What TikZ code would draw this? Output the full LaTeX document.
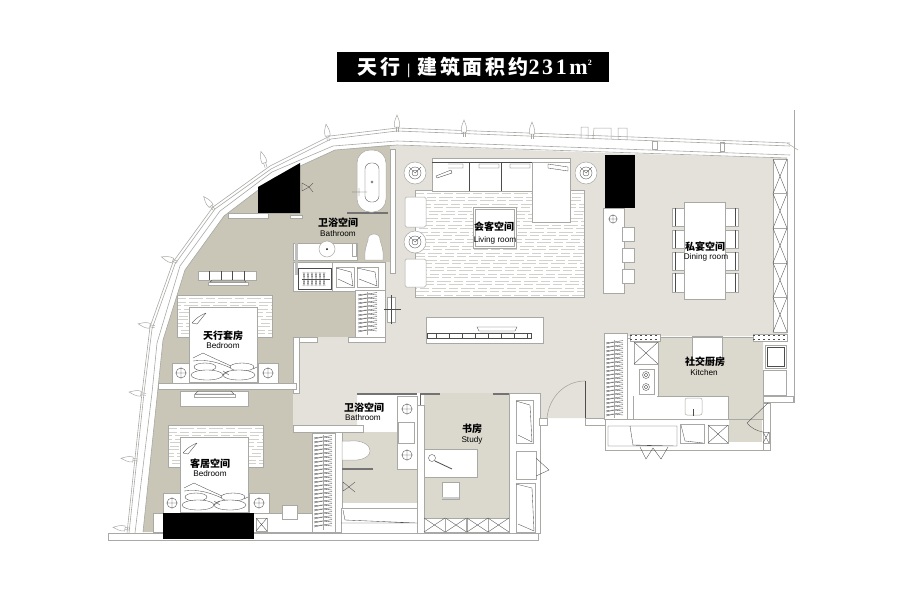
\documentclass[tikz,border=0pt]{standalone}
\usepackage{fontspec}
\setmainfont{Liberation Sans}
\newfontfamily\cjk{Noto Sans CJK SC}
\newfontfamily\titlecjk[LetterSpace=14]{Noto Sans CJK SC}
\newfontfamily\titlenum[LetterSpace=12]{Liberation Serif}
\usetikzlibrary{calc}

\definecolor{floorlight}{HTML}{E3E1DA}
\definecolor{floormid}{HTML}{DBD8CE}
\definecolor{floortaupe}{HTML}{C9C6B7}
\definecolor{planline}{HTML}{A8A8A4}
\definecolor{rugshade}{HTML}{D2D2CD}

\tikzset{
  furn/.style={fill=white,draw=planline,line width=.5pt},
  wall/.style={fill=white,draw=planline,line width=.6pt},
  thinline/.style={draw=black!70,line width=.35pt},
  facade/.style={draw=planline,line width=.6pt},
  glass/.style={draw=black!55,line width=1.1pt},
  rugline/.style={draw=rugshade,line width=.8pt,dash pattern=on 14pt off 3pt on 9pt off 3pt},
  cnlabel/.style={font=\cjk\bfseries\fontsize{10}{10}\selectfont,inner sep=0pt},
  enlabel/.style={font=\fontsize{8.2}{9}\selectfont,inner sep=0pt},
  bud/.pic={
    \draw[planline,fill=white,line width=.5pt] (-2.5,5) .. controls (-3.5,0) and (-1,-4) .. (0,-7) .. controls (1,-4) and (3.5,0) .. (2.5,5) -- cycle;
    \draw[planline,line width=.5pt] (-1,5) -- (-1,10) (1,5) -- (1,10);
  }
}

% box with both diagonals
\newcommand\crossbox[4]{
  \draw[furn] (#1,#2) rectangle (#3,#4);
  \draw[thinline] (#1,#2) -- (#3,#4) (#1,#4) -- (#3,#2);
}
% hanging rail, vertical
\newcommand\hangrack[4]{
  \pgfmathtruncatemacro\rackn{(#4-#3)/4}
  \pgfmathsetmacro\rackm{(#1+#2)/2}
  \foreach \k in {1,...,\rackn}{
    \pgfmathsetmacro\racky{#3+\k*4}
    \draw[thinline] (#1,\racky) -- (\rackm,\racky-2) -- (#2,\racky-3.5);
    \draw[thinline] (#1,\racky-1.5) -- (\rackm,\racky-2) -- (#2,\racky-1);
  }
  \draw[planline,line width=.4pt] (\rackm,#3) -- (\rackm,#4);
}
% woven rug
\newcommand\rughatch[4]{
  \fill[white] (#1,#2) rectangle (#3,#4);
  \pgfmathtruncatemacro\rugn{(#4-#2)/3.5}
  \foreach \k in {1,...,\rugn}{
    \pgfmathsetmacro\rugy{#2+\k*3.5}
    \pgfmathsetmacro\rugph{mod(\k*17,29)}
    \draw[rugline,dash phase=\rugph pt] (#1,\rugy) -- (#3,\rugy);
  }
}
% ringed side table
\newcommand\ringtable[2]{
  \draw[furn] (#1,#2) circle [radius=11];
  \draw[thinline] (#1,#2) circle [radius=6] (#1,#2) circle [radius=3];
  \draw[thinline] (#1-6,#2-6) -- (#1,#2) -- (#1+6,#2-6);
}
% lamp on a night table
\newcommand\lampmark[2]{
  \draw[thinline] (#1,#2) circle [radius=5] (#1-6,#2) -- (#1+6,#2) (#1,#2-6) -- (#1,#2+6);
}
% cupboard with a folded door
\newcommand\foldbox[4]{
  \draw[furn] (#1,#2) rectangle (#3,#4);
  \draw[thinline] (#1,#2+1) -- (#3-3,#2+5) -- (#3-1,#4-1) -- (#1+2,#4-8);
}

\begin{document}
\begin{tikzpicture}[x=1pt,y=-1pt]
\useasboundingbox (0,0) rectangle (900,600);

% floors
\fill[floortaupe] (390,145) -- (335,150) -- (274,178) -- (224,216) -- (185,270) -- (163,340) -- (158,388) -- (143,532) -- (312,532) -- (312,428) -- (293,428) -- (293,337) -- (385,337) -- (385,262) -- (390,262) -- cycle;
\fill[floorlight] (390,145) -- (603,153) -- (787,158) -- (787,336) -- (605,336) -- (605,418) -- (540,418) -- (540,393) -- (357,393) -- (357,428) -- (293,428) -- (293,337) -- (385,337) -- (385,262) -- (390,262) -- cycle;
\fill[floormid] (424,393) rectangle (510,520);
\fill[floormid] (342,432) rectangle (417,503);
\fill[floormid] (658,338) -- (763,338) -- (763,442) -- (728,442) -- (728,396) -- (658,396) -- cycle;

% curved facade
\draw[facade] (790,143) -- (397,128) -- (330,136) -- (270,166) -- (213,207) -- (173,262) -- (150,327) -- (142,393) -- (127,533);
\draw[facade] (790,146) -- (397,131) -- (331,139) -- (271,169) -- (215,209) -- (175,264) -- (152,329) -- (144,393) -- (129,533);
\draw[facade] (790,155) -- (397,141) -- (333,146) -- (272,172) -- (220,211) -- (180,266) -- (157,343) -- (152,393) -- (135,533);
\draw[facade] (787,158) -- (397,145) -- (335,150) -- (274,178) -- (224,216) -- (185,270) -- (163,340) -- (158,388) -- (143,532);
\foreach \x/\y/\a in {532/129/0,464/127/0,397/122/0,327/131/8,263/158/18,208/202/38,168/259/72,145/325/80,136/393/82,128/459/84,120/528/84}
  \pic[rotate=\a] at (\x,\y) {bud};
\draw[planline,line width=.5pt] (581,138) -- (581,127) -- (588,127) -- (588,138) (593,139) -- (594,128) -- (611,128) -- (611,139) (618,139) -- (618,128) -- (627,128) -- (627,140);
\draw[planline,line width=.5pt] (652,141) rectangle (657,149) (720,142) rectangle (724,151);
\draw[planline,line width=.5pt] (794,110) -- (794,402) -- (763,402);
\draw[planline,line width=.5pt] (787,143) -- (798,150);

% black shafts
\fill[black] (258,187) -- (300,163) -- (300,213) -- (258,213) -- cycle;
\fill[black] (605,155) rectangle (635,208);
\fill[black] (163,513) rectangle (254,539);

% walls
\draw[wall] (293,337) rectangle (317,342) (348,337) rectangle (385,342);
\draw[wall] (293,337) rectangle (299,393);
\draw[wall] (158,383) rectangle (296,389);
\draw[wall] (293,425) rectangle (363,432);
\draw[wall] (335,432) rectangle (342,532);
\draw[wall] (417,405) rectangle (424,533);
\draw[wall] (108,533) rectangle (538,540);
\draw[wall] (509,393) rectangle (540,533);
\draw[wall] (539,418) rectangle (547,425);
\draw[wall] (585,418) rectangle (605,425);
\draw[wall] (605,419) rectangle (770,450);
\draw[wall] (763,403) rectangle (770,450);
\draw[wall] (228,213) rectangle (268,218) (290,215) rectangle (302,218);
\draw[glass] (357,394) -- (417,394);
\draw[glass] (420,394) -- (440,394) (493,394) -- (509,394);
\draw[black!60,line width=.5pt] (420,394) -- (420,405);
\draw[glass] (347,213) -- (388,213);
\draw[glass] (342,469) -- (373,469);

% master bath
\draw[furn,rounded corners=13pt] (357,150) rectangle (386,212);
\draw[thinline,rounded corners=6pt] (365,163) rectangle (379,202);
\draw[thinline] (372,182) circle [radius=1.2] (352,192) -- (367,192) (359,188) -- (359,196);
\draw[furn] (390,149) rectangle (395,273);
\draw[thinline] (302,183) -- (309,187) -- (302,191) -- cycle (309,187) -- (313,183) (309,187) -- (313,192);
\draw[furn] (293,243) rectangle (357,260);
\fill[black!25] (295,243) rectangle (298,262);
\draw[furn] (327,249) circle [radius=8];
\fill[black] (327,249) circle [radius=1];
\draw[furn] (352,243) rectangle (356,256);
\draw[furn] (365,260) .. controls (364,250) and (367,244) .. (368,240) .. controls (367,232) and (381,232) .. (380,240) .. controls (381,244) and (384,250) .. (383,260) -- cycle;
\draw[furn] (293,262) rectangle (332,291);
\fill[black!25] (295,262) rectangle (298,275);
\draw[thinline] (298,268) rectangle (331,289);
\draw[thinline] (302,279) -- (330,279);
\foreach \x in {303,307,...,323}
  \draw[thinline] (\x,272) -- (\x+2,286) (\x+2,272) -- (\x,286);
\draw[furn] (332,262) rectangle (385,291);
\foldbox{336}{267}{354}{287}
\foldbox{357}{267}{378}{287}
\draw[furn] (355,290) rectangle (385,337);
\hangrack{358}{377}{292}{335}
\draw[furn] (387,297) rectangle (395,322);
\draw[thinline] (384,309) -- (401,309) (391,295) -- (391,324);

% upper bedroom
\draw[furn] (198,271) rectangle (256,280);
\draw[thinline] (209,271) -- (209,280) (221,271) -- (221,280) (232,271) -- (232,280) (244,271) -- (244,280);
\draw[furn] (208,282) rectangle (248,285);
\draw[thinline] (212,280) -- (244,280) -- (246,282) -- (210,282) -- cycle;
\draw[furn] (180,391) rectangle (248,406);
\draw[furn] (194,394) rectangle (235,397);
\draw[thinline] (198,391) -- (231,391) -- (234,394) -- (195,394) -- cycle;

% beds
\foreach \x/\y in {189/307,180/437}{
  \begin{scope}[shift={(\x,\y)}]
  \rughatch{-12}{-12}{83}{30}
  \draw[planline,line width=.4pt] (-12,-12) rectangle (83,30);
  \draw[furn] (0,0) rectangle (68,75);
  \draw[furn] (-17,56) rectangle (0,76);
  \draw[furn] (69,56) rectangle (89,76);
  \lampmark{-8}{66}
  \lampmark{79}{66}
  \draw[thinline] (3,16) .. controls (7,11) and (12,8) .. (17,6) (3,16) -- (8,17) -- (17,6);
  \draw[thinline] (4,51) -- (14,46) .. controls (26,52) and (36,56) .. (44,60) (4,54) .. controls (20,52) and (30,56) .. (42,61);
  \draw[thinline,fill=white] (16,60) ellipse [x radius=11,y radius=4];
  \draw[thinline,fill=white] (53,60) ellipse [x radius=12,y radius=4];
  \draw[thinline,fill=white] (18,68) ellipse [x radius=16,y radius=5];
  \draw[thinline,fill=white] (50,68) ellipse [x radius=16,y radius=5];
  \draw[thinline] (34,68) -- (40,64) (34,64) -- (40,68) (64,62) -- (68,60);
  \end{scope}
}
\draw[furn] (153,513) rectangle (312,532);
\fill[black] (163,513) rectangle (254,539);
\crossbox{256}{518}{267}{531}
\draw[furn] (282,505) rectangle (297,519);
\draw[furn] (312,433) rectangle (335,532);
\hangrack{314}{332}{435}{530}

% lower bath
\draw[furn] (342,441) -- (350,441) .. controls (356,440) and (370,442) .. (370,451) .. controls (370,459) and (356,461) .. (350,460) -- (342,460) -- cycle;
\draw[thinline] (343,482) -- (349,487) -- (343,491) -- cycle (349,487) -- (355,482) (349,487) -- (355,492);
\draw[furn] (397,396) rectangle (417,469);
\lampmark{407}{409}
\lampmark{407}{455}
\draw[furn] (398,422) rectangle (414,443);
\draw[furn] (341,508) rectangle (417,533);
\draw[thinline] (343,510) -- (345,520) -- (417,523) (341,523) -- (417,523);

% study
\draw[furn] (424,449) rectangle (477,477);
\draw[thinline] (432,458) circle [radius=3.5];
\draw[black!70,line width=.8pt] (435,461) -- (452,469);
\draw[furn] (442,482) rectangle (459,499);
\fill[black!20] (442,497) rectangle (459,499);
\foreach \x in {424,445.5,467,488}{
  \crossbox{\x}{518}{\x+21}{532}
}
\foldbox{516}{400}{533}{443}
\draw[furn] (516,451) rectangle (536,479);
\foldbox{516}{483}{535}{532}
\draw[thinline] (536,458) -- (549,470) -- (536,476);

% entrance door
\draw[black!70,line width=.5pt] (585,381) -- (585,418);
\draw[planline,line width=.6pt] (585,381) .. controls (565,381) and (549,397) .. (547,418);

% living room
\rughatch{415}{190}{584}{297}
\draw[planline,line width=.5pt] (415,190) rectangle (584,297);
\draw[furn] (432,158) rectangle (570,191);
\draw[thinline] (469,162) -- (469,191) (501,162) -- (501,191) (532,162) -- (532,191) (432,162) -- (570,162);
\draw[furn] (532,162) rectangle (570,222);
\draw[thinline] (448,164) -- (463,164) -- (463,168) -- (448,168) (479,164) rectangle (499,168) (510,164) rectangle (530,168) (548,164) -- (568,167) -- (568,171) -- (548,168) -- cycle;
\draw[thinline] (436,176) -- (451,170) -- (452,173) -- (437,178) -- cycle;
\ringtable{415}{173}
\ringtable{586}{173}
\ringtable{415}{242}
\draw[furn,rounded corners=1.5pt] (405,197) rectangle (426,227);
\draw[furn,rounded corners=1.5pt] (405,259) rectangle (426,287);
\draw[furn] (473,207) rectangle (516,248);
\draw[planline,line width=.5pt] (475,209) rectangle (514,246);

% bar and dining table
\draw[furn] (603,208) rectangle (624,293);
\draw[thinline] (613,219) circle [radius=4] (608,219) -- (618,219) (613,214) -- (613,224);
\draw[furn] (622,227) rectangle (634,241) (622,248) rectangle (634,262) (622,269) rectangle (634,283);
\foreach \y/\v in {208/226,230/248,252/270,273/292}{
  \draw[furn] (672,\y) rectangle (684,\v);
  \draw[furn] (725,\y) rectangle (738,\v);
  \draw[thinline] (675,\y) -- (675,\v) (735,\y) -- (735,\v);
}
\draw[furn] (684,202) rectangle (725,299);
\foreach \y in {159,193.6,228.2,262.8,297.4}{
  \crossbox{773}{\y}{787}{\y+34.6}
}

% media wall
\draw[furn] (426,317) rectangle (543,343);
\draw[thinline] (477,327) -- (517,327) -- (515,331) -- (479,331) -- cycle (480,333) -- (514,333);
\draw[black!70,line width=.6pt] (427,333) rectangle (531,338);
\foreach \x in {436,449,462,475,488,501,514,527}
  \fill[black!70] (\x-.5,333) rectangle (\x+.5,338);

% kitchen
\draw[wall] (604,333) rectangle (627,419);
\hangrack{606}{623}{340}{418}
\draw[wall] (627,338) rectangle (658,419);
\draw[wall] (633,396) rectangle (728,419);
\fill[white] (634,392) rectangle (657,400);
\crossbox{634}{342}{658}{364}
\draw[furn] (639,369) rectangle (654,394);
\foreach \y in {375,387}
  \draw[thinline] (646,\y) circle [radius=3.5] (646,\y) circle [radius=1.8];
\draw[furn,rounded corners=2pt] (685,398) rectangle (702,415);
\draw[thinline] (693,409) -- (693,416);
\draw[thinline] (608,426) rectangle (677,446) (630,426) -- (633,445) -- (677,446);
\draw[thinline] (640,447) -- (646,459) -- (653,448) -- (661,459) -- (668,447);
\draw[furn] (680,424) rectangle (704,443);
\draw[thinline] (681,425) -- (685,441) -- (703,443);
\crossbox{708}{425}{728}{443}
\fill[floormid] (729,420) rectangle (762,442);
\draw[furn] (692,336) rectangle (722,360);
\draw[planline,line width=.8pt] (660,337) -- (753,337);
\foreach \x/\v in {630/660,753/787}{
  \draw[furn] (\x,334) rectangle (\v,341);
  \draw[black!70,line width=.5pt,dash pattern=on 2pt off 3pt] (\x,335.5) -- (\v,335.5) (\x,339.5) -- (\v,339.5);
}
\draw[furn] (765,345) rectangle (786,368);
\draw[thinline] (767,347) rectangle (784,366);
\draw[furn] (763,370) rectangle (786,395);
\draw[wall] (763,396) rectangle (793,402);
\draw[thinline] (768,403) -- (747,423) .. controls (751,428) and (757,431) .. (763,432);
\crossbox{763}{432}{769}{443}

% room names
\node[cnlabel] (bathmain) at (338,223) {卫浴空间};
\node[enlabel] (bathmainen) at (338,234) {Bathroom};
\node[cnlabel] (suite) at (223,336) {天行套房};
\node[enlabel] (suiteen) at (223,346) {Bedroom};
\node[cnlabel] (guest) at (210,464) {客居空间};
\node[enlabel] (guesten) at (210,474) {Bedroom};
\node[cnlabel] (bathguest) at (364,408) {卫浴空间};
\node[enlabel] (bathguesten) at (363,418) {Bathroom};
\node[cnlabel] (living) at (494,227) {会客空间};
\node[enlabel] (livingen) at (495,240) {Living room};
\node[cnlabel] (dining) at (705,247) {私宴空间};
\node[enlabel] (diningen) at (706,257) {Dining room};
\node[cnlabel] (study) at (472,429) {书房};
\node[enlabel] (studyen) at (472,440) {Study};
\node[cnlabel] (kitchen) at (705,362) {社交厨房};
\node[enlabel] (kitchenen) at (704,373) {Kitchen};

% title bar
\fill[black] (337,52) rectangle (609,82);
\node[text=white,inner sep=0pt,font=\fontsize{20}{20}\selectfont\bfseries] (title) at (474.5,67) {{\titlecjk 天行}\hspace{7pt}{\titlenum\fontsize{15}{15}\selectfont|}\hspace{7pt}{\titlecjk 建筑面积约}{\titlenum\fontsize{22}{22}\selectfont 231m}\raisebox{9pt}{\titlenum\fontsize{8}{8}\selectfont 2}};
\end{tikzpicture}
\end{document}
